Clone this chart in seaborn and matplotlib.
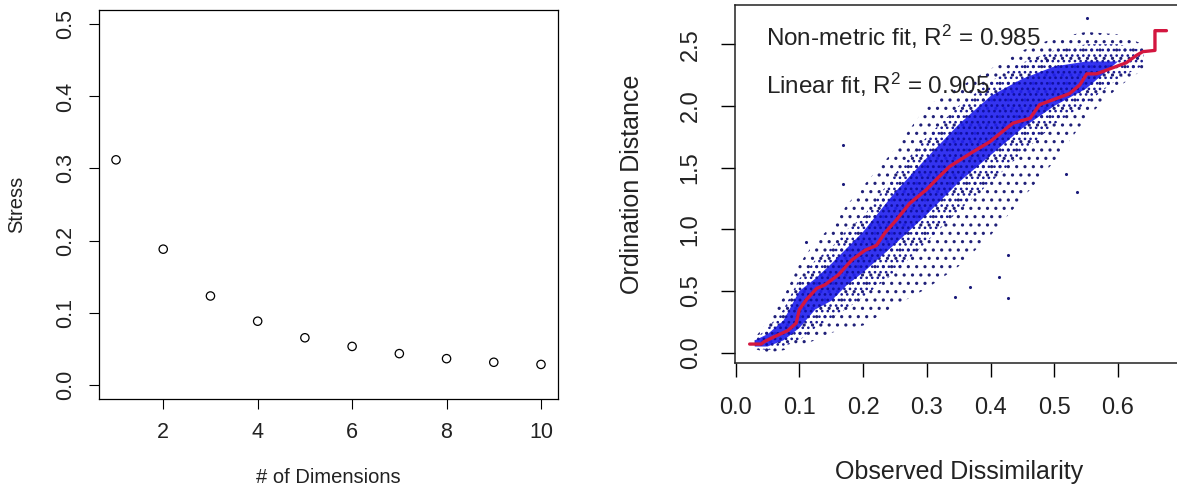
import matplotlib
matplotlib.use("Agg")
import matplotlib.pyplot as plt
import seaborn as sns
import pandas as pd

# ---------------- data ----------------
# Left panel: stress vs number of dimensions
dims = [1, 2, 3, 4, 5, 6, 7, 8, 9, 10]
stress = [0.312, 0.188, 0.123, 0.088, 0.065, 0.053, 0.043, 0.036, 0.031, 0.028]

# Right panel: Shepard diagram, cloud envelopes
cloud_x = [0.03, 0.05, 0.075, 0.10, 0.125, 0.15, 0.175, 0.20, 0.25, 0.30, 0.35, 0.40, 0.45, 0.50, 0.55, 0.60, 0.64]
outer_hi = [0.12, 0.25, 0.45, 0.72, 0.90, 1.02, 1.20, 1.35, 1.65, 2.00, 2.15, 2.30, 2.45, 2.55, 2.60, 2.58, 2.50]
outer_lo = [0.03, 0.00, 0.02, 0.06, 0.10, 0.16, 0.20, 0.22, 0.38, 0.52, 0.70, 0.95, 1.25, 1.55, 1.90, 2.15, 2.30]
mid_hi = [0.11, 0.20, 0.35, 0.60, 0.75, 0.85, 1.00, 1.10, 1.45, 1.75, 2.00, 2.20, 2.35, 2.45, 2.50, 2.50, 2.45]
mid_lo = [0.04, 0.02, 0.05, 0.10, 0.20, 0.28, 0.36, 0.45, 0.65, 0.90, 1.15, 1.38, 1.62, 1.85, 2.02, 2.22, 2.33]
core_hi = [0.10, 0.15, 0.26, 0.50, 0.60, 0.72, 0.85, 0.98, 1.30, 1.58, 1.85, 2.08, 2.22, 2.32, 2.36, 2.36, 2.38]
core_lo = [0.05, 0.05, 0.10, 0.20, 0.35, 0.42, 0.55, 0.65, 0.88, 1.12, 1.38, 1.60, 1.82, 2.00, 2.14, 2.36, 2.38]

# isolated points visible outside the cloud
outlier_x = [0.168, 0.168, 0.536, 0.428, 0.428, 0.414, 0.344, 0.552, 0.518, 0.367, 0.111, 0.488]
outlier_y = [1.68, 1.37, 1.30, 0.44, 0.79, 0.61, 0.45, 2.71, 1.45, 0.53, 0.90, 2.37]

# non-metric (isotonic) fit line
fit_x = [0.022, 0.040, 0.045, 0.061, 0.082, 0.095, 0.100, 0.111, 0.127, 0.140, 0.161, 0.182,
         0.203, 0.221, 0.234, 0.252, 0.273, 0.299, 0.320, 0.336, 0.373, 0.399, 0.435, 0.462,
         0.477, 0.524, 0.540, 0.551, 0.566, 0.587, 0.613, 0.629, 0.639, 0.658, 0.658, 0.676]
fit_y = [0.07, 0.07, 0.09, 0.13, 0.18, 0.24, 0.35, 0.43, 0.52, 0.55, 0.63, 0.75,
         0.83, 0.87, 0.97, 1.075, 1.21, 1.32, 1.43, 1.51, 1.63, 1.71, 1.86, 1.90,
         2.01, 2.10, 2.17, 2.26, 2.26, 2.30, 2.35, 2.41, 2.44, 2.45, 2.61, 2.61]

annot_lines = [r"Non-metric fit, R$^2$ = 0.985", r"Linear fit, R$^2$ = 0.905"]

# ---------------- style ----------------
sns.set_theme(style="white")
plt.rcParams["font.family"] = ["Liberation Sans", "DejaVu Sans"]
plt.rcParams["mathtext.fontset"] = "custom"
plt.rcParams["mathtext.rm"] = "Liberation Sans"
plt.rcParams["mathtext.it"] = "Liberation Sans:italic"
plt.rcParams["hatch.linewidth"] = 1.1

W, H = 1177, 494
fig = plt.figure(figsize=(W / 100, H / 100), dpi=100)
fig.patch.set_facecolor("white")

def frac(x0, y0, x1, y1):
    return [x0 / W, 1 - y1 / H, (x1 - x0) / W, (y1 - y0) / H]

# ---------------- left panel ----------------
ax1 = fig.add_axes(frac(99, 10, 558, 399))
df1 = pd.DataFrame({"dims": dims, "stress": stress})
sns.scatterplot(data=df1, x="dims", y="stress", ax=ax1, marker="o", s=36,
                facecolor="none", edgecolor="black", linewidth=0.9)
ax1.set_xlim(0.64, 10.36)
ax1.set_ylim(-0.02, 0.52)
ax1.set_xticks([2, 4, 6, 8, 10])
ax1.set_yticks([0.0, 0.1, 0.2, 0.3, 0.4, 0.5])
ax1.set_yticklabels(["0.0", "0.1", "0.2", "0.3", "0.4", "0.5"])
ax1.set_xlabel("# of Dimensions", fontsize=14.5, color="#222222", labelpad=18)
ax1.set_ylabel("Stress", fontsize=14.5, color="#222222", labelpad=21)
ax1.tick_params(axis="both", direction="out", length=7.5, width=0.8, color="black",
                labelsize=15.5, labelcolor="#222222", bottom=True, left=True)
ax1.tick_params(axis="x", pad=9)
ax1.tick_params(axis="y", pad=9)
for lab in ax1.get_yticklabels():
    lab.set_rotation(90)
    lab.set_va("center")
for sp in ax1.spines.values():
    sp.set_color("black")
    sp.set_linewidth(0.9)

# ---------------- right panel ----------------
ax2 = fig.add_axes(frac(735, 5, 1183, 362.7))
ax2.fill_between(cloud_x, outer_lo, outer_hi, facecolor="none", edgecolor="#202078",
                 hatch="..", linewidth=0)
ax2.fill_between(cloud_x, mid_lo, mid_hi, facecolor="none", edgecolor="#181890",
                 hatch="...", linewidth=0)
ax2.fill_between(cloud_x, core_lo, core_hi, facecolor="#2222ee", edgecolor="#10109a",
                 hatch="...", linewidth=0, alpha=0.92)
sns.scatterplot(x=outlier_x, y=outlier_y, ax=ax2, s=5, color="#1a1a7a", linewidth=0)
sns.lineplot(x=fit_x, y=fit_y, ax=ax2, sort=False, estimator=None, color="#d3163f",
             linewidth=2.4)
ax2.set_xlim(-0.001, 0.702)
ax2.set_ylim(-0.081, 2.818)
ax2.set_xticks([0.0, 0.1, 0.2, 0.3, 0.4, 0.5, 0.6])
ax2.set_xticklabels(["0.0", "0.1", "0.2", "0.3", "0.4", "0.5", "0.6"])
ax2.set_yticks([0.0, 0.5, 1.0, 1.5, 2.0, 2.5])
ax2.set_yticklabels(["0.0", "0.5", "1.0", "1.5", "2.0", "2.5"])
ax2.set_xlabel("Observed Dissimilarity", fontsize=18, color="#222222", labelpad=29)
ax2.set_ylabel("Ordination Distance", fontsize=18, color="#222222", labelpad=26)
ax2.tick_params(axis="both", direction="out", length=10, width=1.0, color="black",
                labelsize=17, labelcolor="#222222", bottom=True, left=True)
ax2.tick_params(axis="x", pad=15)
ax2.tick_params(axis="y", pad=14)
for lab in ax2.get_yticklabels():
    lab.set_rotation(90)
    lab.set_va("center")
for sp in ax2.spines.values():
    sp.set_color("#222222")
    sp.set_linewidth(1.1)

for txt, yy in zip(annot_lines, [0.886, 0.751]):
    ax2.text(0.069, yy, txt, transform=ax2.transAxes, fontsize=17.5, color="#222222",
             ha="left", va="baseline")

fig.savefig("out.png", dpi=100, facecolor="white")
